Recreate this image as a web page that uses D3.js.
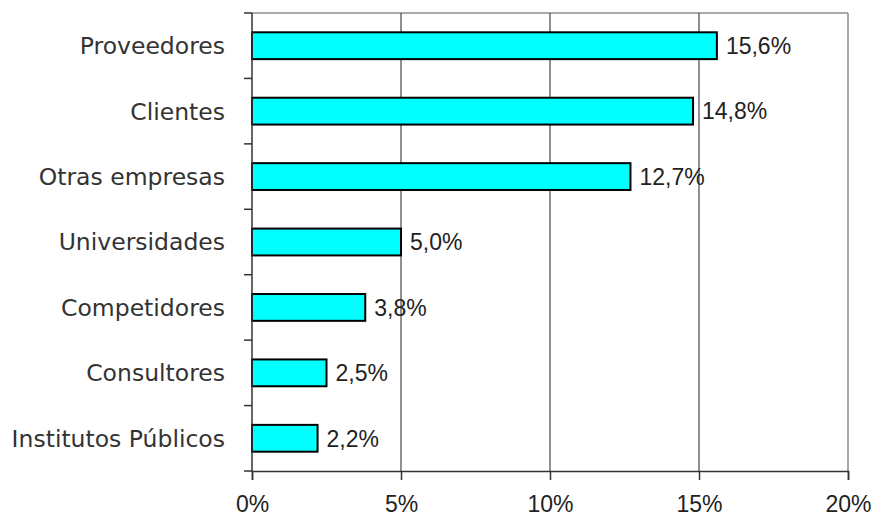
<!DOCTYPE html>
<html>
<head>
<meta charset="utf-8">
<script src="https://cdn.jsdelivr.net/npm/d3@7"></script>
<style>
  body { margin: 0; background: #fff; }
</style>
</head>
<body>
<script>
// data
const categories = ["Proveedores", "Clientes", "Otras empresas", "Universidades", "Competidores", "Consultores", "Institutos Públicos"];
const values = [15.6, 14.8, 12.7, 5.0, 3.8, 2.5, 2.2];
const xTicks = [0, 5, 10, 15, 20];

let width = 875, height = 516;
let margin = { top: 13, bottom: 45, left: 252, right: 27 };

let svg = d3.select('body')
  .append('svg')
  .attr('width', width)
  .attr('height', height);

const xScale = d3.scaleLinear()
  .domain([0, 20])
  .range([margin.left, width - margin.right]);

const yScale = d3.scaleBand()
  .domain(categories)
  .range([margin.top, height - margin.bottom])
  .paddingInner(0.59)
  .paddingOuter(0.295);

const fmt = v => v.toFixed(1).replace('.', ',') + '%';

// outer frame (top / right in grey)
svg.append("line")
  .attr("x1", margin.left).attr("x2", width - margin.right)
  .attr("y1", margin.top).attr("y2", margin.top)
  .attr("stroke", "#8c8c8c").attr("stroke-width", 1.5);
svg.append("line")
  .attr("x1", width - margin.right).attr("x2", width - margin.right)
  .attr("y1", margin.top).attr("y2", height - margin.bottom)
  .attr("stroke", "#8c8c8c").attr("stroke-width", 1.5);

// vertical gridlines
svg.selectAll(".grid")
  .data(xTicks.slice(1, -1))
  .enter()
  .append("line")
  .attr("class", "grid")
  .attr("x1", d => xScale(d)).attr("x2", d => xScale(d))
  .attr("y1", margin.top).attr("y2", height - margin.bottom)
  .attr("stroke", "#555").attr("stroke-width", 1.3);

// bars
svg.selectAll("rect.bar")
  .data(values)
  .enter()
  .append("rect")
  .attr("class", "bar")
  .attr("x", xScale(0))
  .attr("y", (d, i) => yScale(categories[i]))
  .attr("width", d => xScale(d) - xScale(0))
  .attr("height", yScale.bandwidth())
  .attr("fill", "#00ffff")
  .attr("stroke", "#000")
  .attr("stroke-width", 2);

// value labels
svg.selectAll("text.val")
  .data(values)
  .enter()
  .append("text")
  .attr("class", "val")
  .attr("x", d => xScale(d) + 9)
  .attr("y", (d, i) => yScale(categories[i]) + yScale.bandwidth() / 2)
  .attr("dy", "0.36em")
  .style("font-family", "Liberation Sans, Arial, sans-serif")
  .style("font-size", "23px")
  .attr("fill", "#222")
  .text(fmt);

// y axis: ticks at category boundaries
const yBounds = d3.range(categories.length + 1).map(i => margin.top + i * (height - margin.bottom - margin.top) / categories.length);
svg.append("line")
  .attr("x1", margin.left).attr("x2", margin.left)
  .attr("y1", margin.top).attr("y2", height - margin.bottom)
  .attr("stroke", "#333").attr("stroke-width", 1.5);
svg.selectAll(".ytick")
  .data(yBounds)
  .enter()
  .append("line")
  .attr("x1", margin.left - 8).attr("x2", margin.left)
  .attr("y1", d => d).attr("y2", d => d)
  .attr("stroke", "#333").attr("stroke-width", 1.5);

svg.selectAll("text.cat")
  .data(categories)
  .enter()
  .append("text")
  .attr("class", "cat")
  .attr("x", margin.left - 27)
  .attr("y", d => yScale(d) + yScale.bandwidth() / 2)
  .attr("dy", "0.36em")
  .attr("text-anchor", "end")
  .style("font-family", "DejaVu Sans, sans-serif")
  .style("font-size", "23.5px")
  .attr("fill", "#333")
  .text(d => d);

// x axis
const xAxis = svg.append("g")
  .attr("transform", `translate(0,${height - margin.bottom})`)
  .call(d3.axisBottom(xScale).tickValues(xTicks).tickSize(9).tickPadding(16).tickFormat(d => d + "%"));
xAxis.select(".domain").attr("stroke", "#333").attr("stroke-width", 1.5);
xAxis.selectAll(".tick line").attr("stroke", "#333").attr("stroke-width", 1.5);
xAxis.selectAll("text")
  .style("font-family", "Liberation Sans, Arial, sans-serif")
  .style("font-size", "23px")
  .attr("fill", "#222");
</script>
</body>
</html>
